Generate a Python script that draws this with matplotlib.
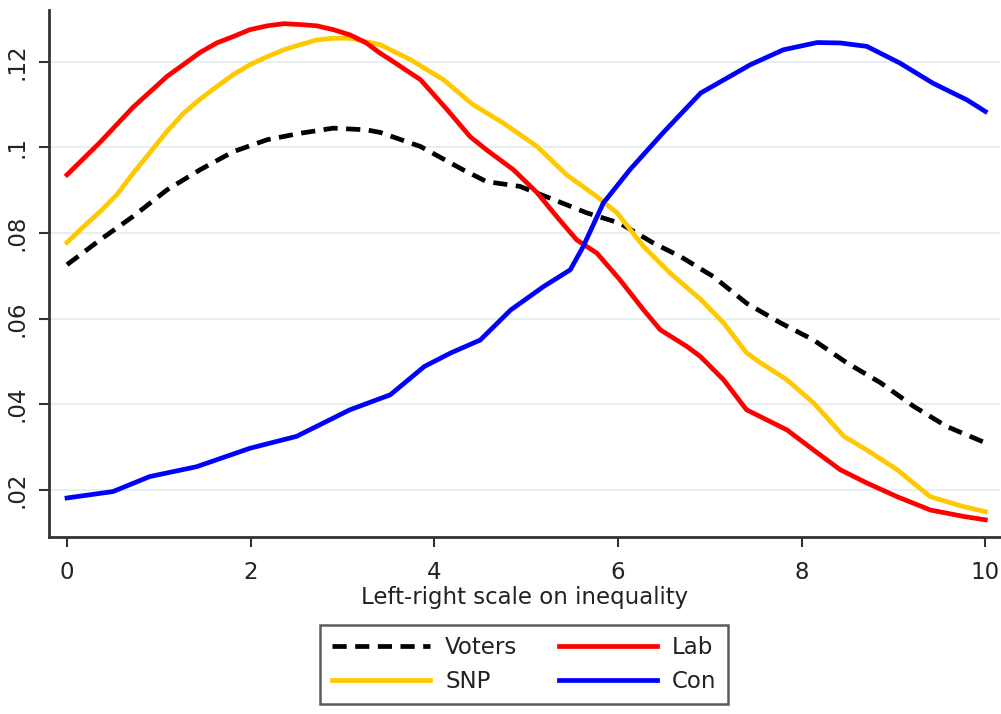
import matplotlib
matplotlib.use("Agg")
import matplotlib.pyplot as plt

# ----------------------------
# Data (kernel densities)
# ----------------------------
voters_x = [0, 0.36, 0.72, 1.09, 1.45, 1.81, 2.18, 2.54, 2.90, 3.26, 3.41, 3.85,
            4.31, 4.57, 4.93, 5.30, 5.66, 6.02, 6.39, 6.68, 7.04, 7.40, 7.77,
            8.13, 8.49, 8.86, 9.22, 9.58, 10.0]
voters_y = [0.0726, 0.0784, 0.0839, 0.0901, 0.0948, 0.0990, 0.1018, 0.1033,
            0.1045, 0.1041, 0.1035, 0.1002, 0.0948, 0.0920, 0.0909, 0.0878,
            0.0847, 0.0823, 0.0776, 0.0745, 0.0698, 0.0636, 0.0590, 0.0550,
            0.0497, 0.0450, 0.0395, 0.0348, 0.0310]

lab_x = [0, 0.36, 0.72, 1.09, 1.45, 1.63, 1.81, 1.99,
         2.18, 2.36, 2.54, 2.72, 2.90, 3.08, 3.26, 3.41, 3.52, 3.85, 4.14,
         4.39, 4.57, 4.86, 5.12, 5.33, 5.55, 5.77, 6.02, 6.28, 6.46, 6.75,
         6.90, 7.15, 7.40, 7.55, 7.84, 8.13, 8.42, 8.71, 9.04, 9.40, 9.76, 10.0]
lab_y = [0.0936, 0.1012, 0.1094, 0.1166, 0.1222, 0.1244, 0.1259, 0.1275,
         0.1284, 0.1289, 0.1287, 0.1284,
         0.1275, 0.1263, 0.1244, 0.1220, 0.1205, 0.1158, 0.1088, 0.1025,
         0.0994, 0.0948, 0.0894, 0.0839, 0.0784, 0.0753, 0.0691, 0.0620,
         0.0574, 0.0535, 0.0511, 0.0457, 0.0387, 0.0371, 0.0340, 0.0293,
         0.0247, 0.0216, 0.0184, 0.0153, 0.0138, 0.0130]

snp_x = [0, 0.18, 0.36, 0.54, 0.72, 0.90, 1.09, 1.27, 1.45, 1.63, 1.81, 1.99,
         2.18, 2.36, 2.54, 2.72, 2.90, 3.08, 3.26, 3.41, 3.74, 4.10, 4.42,
         4.75, 5.12, 5.44, 5.77, 5.99, 6.28, 6.57, 6.90, 7.15, 7.40, 7.55,
         7.84, 8.13, 8.46, 8.71, 9.04, 9.40, 9.76, 10.0]
snp_y = [0.0778, 0.0815, 0.0850, 0.0889, 0.0940, 0.0987, 0.1038, 0.1080,
         0.1113, 0.1142, 0.1170, 0.1193, 0.1212, 0.1228, 0.1240, 0.1251,
         0.1255, 0.1255, 0.1247, 0.1240, 0.1205, 0.1158, 0.1100, 0.1057,
         0.1002, 0.0936, 0.0885, 0.0847, 0.0768, 0.0706, 0.0645, 0.0590,
         0.0520, 0.0497, 0.0457, 0.0403, 0.0325, 0.0293, 0.0247, 0.0184,
         0.0161, 0.0149]

con_x = [0, 0.5, 0.9, 1.41, 1.99, 2.50, 3.08, 3.52, 3.89, 4.18, 4.5, 4.83,
         5.19, 5.48, 5.62, 5.84, 6.13, 6.49, 6.90, 7.44, 7.80, 8.17, 8.42,
         8.71, 9.07, 9.43, 9.80, 10.0]
con_y = [0.0181, 0.0196, 0.0231, 0.0254, 0.0297, 0.0325, 0.0387, 0.0422,
         0.0488, 0.0520, 0.0550, 0.0620, 0.0675, 0.0714, 0.0768, 0.0870,
         0.0948, 0.1034, 0.1127, 0.1193, 0.1228, 0.1245, 0.1244, 0.1236,
         0.1197, 0.1150, 0.1111, 0.1084]

x_ticks = [0, 2, 4, 6, 8, 10]
y_ticks = [0.02, 0.04, 0.06, 0.08, 0.10, 0.12]
y_tick_labels = [".02", ".04", ".06", ".08", ".1", ".12"]

plt.rcParams["font.family"] = ["DejaVu Sans"]
FS = 16.5


def main():
    fig = plt.figure(figsize=(10.01, 7.14), dpi=100)
    ax = fig.add_axes([0.049, 0.248, 0.950, 0.738])

    lw = 3.4
    ax.plot(voters_x, voters_y, color="black", linewidth=lw,
            linestyle=(0, (3.0, 1.8)), label="Voters", zorder=3)
    ax.plot(snp_x, snp_y, color="#ffc800", linewidth=lw, label="SNP", zorder=3)
    ax.plot(lab_x, lab_y, color="#ff0000", linewidth=lw, label="Lab", zorder=4)
    ax.plot(con_x, con_y, color="#0000ff", linewidth=lw, label="Con", zorder=5)

    ax.set_xlim(-0.196, 10.16)
    ax.set_ylim(0.009, 0.1321)

    ax.set_xticks(x_ticks)
    ax.set_yticks(y_ticks)
    ax.set_yticklabels(y_tick_labels, rotation=90, va="center")
    ax.tick_params(axis="both", labelsize=FS, length=7, width=1.5,
                   color="#333333", labelcolor="#222222", direction="out")
    ax.tick_params(axis="y", pad=8)
    ax.tick_params(axis="x", pad=10)

    ax.yaxis.grid(True, color="#e6eff1", linewidth=1.5)
    ax.set_axisbelow(True)

    for side in ["top", "right"]:
        ax.spines[side].set_visible(False)
    for side in ["left", "bottom"]:
        ax.spines[side].set_color("#333333")
        ax.spines[side].set_linewidth(2)

    ax.set_xlabel("Left-right scale on inequality", fontsize=FS,
                  color="#222222", labelpad=2)

    leg = ax.legend(ncol=2, loc="upper center", fontsize=FS,
                    frameon=True, fancybox=False, handlelength=4.3,
                    handletextpad=0.65, columnspacing=1.8, borderpad=0.5,
                    labelspacing=0.45, borderaxespad=0)
    leg.set_bbox_to_anchor((0.5235, 1 - 625 / 714), transform=fig.transFigure)
    leg.get_frame().set_edgecolor("#333333")
    leg.get_frame().set_linewidth(1.8)
    for txt in leg.get_texts():
        txt.set_color("#222222")

    fig.savefig("out.png", dpi=100, facecolor="white")


if __name__ == "__main__":
    main()
